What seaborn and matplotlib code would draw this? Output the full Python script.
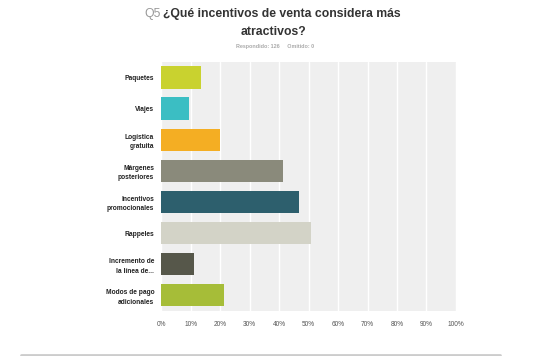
import numpy as np
import pandas as pd
import matplotlib
matplotlib.use('Agg')
import matplotlib.pyplot as plt
import seaborn as sns
from matplotlib.lines import Line2D
from matplotlib.ticker import FuncFormatter

# answers (labels as shown) and share of 126 respondents, in %
categories = ['Paquetes', 'Viajes', 'Logística\ngratuita', 'Márgenes\nposteriores',
              'Incentivos\npromocionales', 'Rappeles', 'Incremento de\nla línea de...',
              'Modos de pago\nadicionales']
percent = [13.49, 9.52, 19.84, 41.27, 46.83, 50.79, 11.11, 21.43]
bar_colors = ['#c9d22f', '#3bbec3', '#f4ae23', '#8a8a7b', '#2d5f6d', '#d3d3c7', '#56574a', '#a6bd38']
xticks = [0, 10, 20, 30, 40, 50, 60, 70, 80, 90, 100]

df = pd.DataFrame({'answer': categories, 'pct': percent})

sns.set_style('white')
plt.rcParams['font.family'] = ['Liberation Sans', 'DejaVu Sans']

fig = plt.figure(figsize=(5.5, 3.56), dpi=100)
ax = fig.add_axes([0.293, 0.127, 0.536, 0.699])
ax.set_facecolor('#efefef')

sns.barplot(data=df, y='answer', x='pct', hue='answer', palette=bar_colors,
            legend=False, width=0.72, ax=ax, zorder=3, saturation=1, linewidth=0)

ax.set_xlim(0, 100)
ax.set_xticks(xticks)
ax.xaxis.set_major_formatter(FuncFormatter(lambda v, p: f'{int(v)}%'))
ax.grid(axis='x', color='white', linewidth=1.0, zorder=0)
ax.set_axisbelow(True)
for s in ax.spines.values():
    s.set_visible(False)
ax.set_xlabel('')
ax.set_ylabel('')
ax.tick_params(axis='x', length=0, pad=7, labelsize=4.7, labelcolor='#555555')
ax.tick_params(axis='y', length=0, pad=5, labelsize=4.8, labelcolor='#222222')
for t in ax.get_yticklabels():
    t.set_fontweight('bold')
    t.set_horizontalalignment('right')
    t.set_multialignment('right')
    t.set_linespacing(1.5)

# title, "Q5" in grey just before it
fig.text(0.297, 0.962, '¿Qué incentivos de venta considera más', ha='left', va='center',
         fontsize=8.8, fontweight='bold', color='#333333')
fig.text(0.292, 0.962, 'Q5', ha='right', va='center', fontsize=8.8, color='#999999')
fig.text(0.497, 0.91, 'atractivos?', ha='center', va='center',
         fontsize=8.8, fontweight='bold', color='#333333')
fig.text(0.5, 0.868, 'Respondido: 126     Omitido: 0', ha='center', va='center',
         fontsize=3.9, fontweight='bold', color='#aaaaaa')

# separator at the bottom
fig.add_artist(Line2D([0.038, 0.909], [0.003, 0.003], color='#cccccc', linewidth=2))

fig.savefig('out.png', dpi=100)
